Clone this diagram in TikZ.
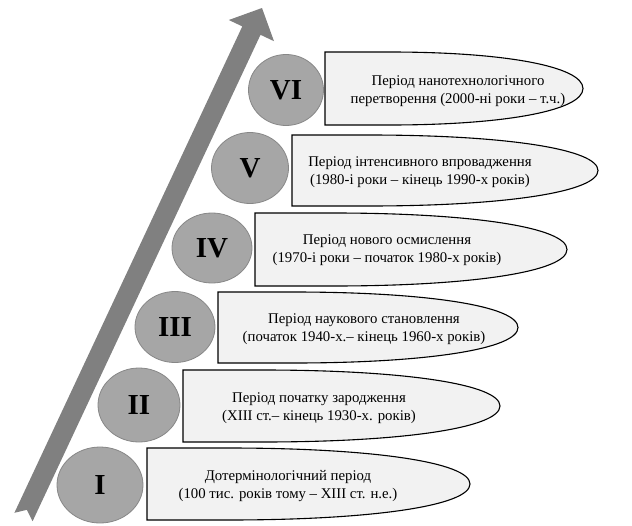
\documentclass[tikz,border=0pt]{standalone}
\usepackage{fontspec}
\setmainfont{Liberation Serif}
\usetikzlibrary{shapes.geometric}
\definecolor{boxfill}{RGB}{242,242,242}
\definecolor{circfill}{RGB}{166,166,166}
\definecolor{circline}{RGB}{135,135,135}
\definecolor{arrowfill}{RGB}{128,128,128}
\newcommand\stagebox[4]{%
  \pgfmathsetmacro\mM{(#2+#3)/2}%
  \pgfmathsetmacro\hH{#3-#2}%
  \pgfmathsetmacro\wW{#4-#1}%
  \draw[boxshape] (#1,#2) -- ({#1+0.25*\wW},#2)
    .. controls ({#1+0.7*\wW},#2) and (#4,{\mM-0.3*\hH}) .. (#4,\mM)
    .. controls (#4,{\mM+0.3*\hH}) and ({#1+0.7*\wW},#3) .. ({#1+0.25*\wW},#3)
    -- (#1,#3) -- cycle;}
\begin{document}
\begin{tikzpicture}[x=1pt,y=-1pt,
  boxshape/.style={draw=black,line width=1.1pt,fill=boxfill},
  stage/.style={ellipse,draw=circline,line width=0.8pt,fill=circfill,inner sep=0pt,
    font=\fontsize{29}{30}\selectfont\bfseries},
  stagetext/.style={align=center,inner sep=0pt,font=\fontsize{14.8}{17.5}\selectfont}]
\useasboundingbox (0,0) rectangle (632,525);
% arrow
\fill[arrowfill] (14.4,512.8) -- (242.3,26.4) -- (228.8,20.0) -- (262,8)
  -- (274.0,41.2) -- (260.5,34.8) -- (32.6,521.2) -- (26.9,509.8) -- cycle;
% boxes
\stagebox{325}{52}{125}{583}
\stagebox{292}{135}{206}{598}
\stagebox{255}{213}{286}{567}
\stagebox{218}{292}{363}{518}
\stagebox{183}{370}{442}{500}
\stagebox{147}{448}{520}{470}
% circles
\node[stage,minimum width=75pt,minimum height=71pt] (c6) at (286,90) {VI};
\node[stage,minimum width=77pt,minimum height=71pt] (c5) at (250,168) {V};
\node[stage,minimum width=80pt,minimum height=70pt] (c4) at (212,248) {IV};
\node[stage,minimum width=80pt,minimum height=71pt] (c3) at (175,327) {III};
\node[stage,minimum width=82pt,minimum height=74pt] (c2) at (139,405) {II};
\node[stage,minimum width=86pt,minimum height=76pt] (c1) at (100,485) {I};
% texts
\node[stagetext] (t6) at (458,91) {Період нанотехнологічного\\перетворення (2000-ні роки – т.ч.)};
\node[stagetext] (t5) at (420,172) {Період інтенсивного впровадження\\(1980-і роки – кінець 1990-х років)};
\node[stagetext] (t4) at (387,250) {Період нового осмислення\\(1970-і роки – початок 1980-х років)};
\node[stagetext] (t3) at (364,329) {Період наукового становлення\\(початок 1940-х.– кінець 1960-х років)};
\node[stagetext] (t2) at (319,408) {Період початку зародження\\(XIII ст.– кінець 1930-х. років)};
\node[stagetext] (t1) at (288,486) {Дотермінологічний період\\(100 тис. років тому – XIII ст. н.е.)};
\end{tikzpicture}
\end{document}
